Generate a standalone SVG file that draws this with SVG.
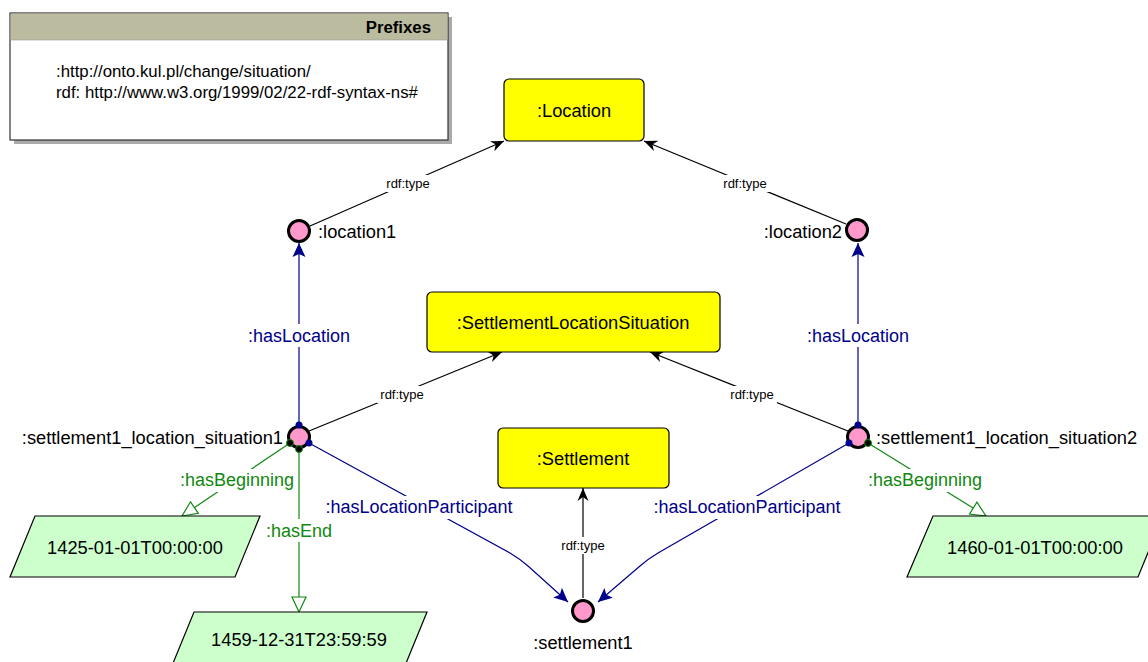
<svg xmlns="http://www.w3.org/2000/svg" width="1148" height="662" viewBox="0 0 1148 662">
<style>
text{font-family:"Liberation Sans",Arial,sans-serif;}
.cls{fill:#ffff00;stroke:#000;stroke-width:1.2;}
.ind{fill:#ff99cc;stroke:#000;stroke-width:3;}
.lit{fill:#ccffcc;stroke:#000;stroke-width:1.2;}
.t16{font-size:18.3px;fill:#000;}
.c{text-anchor:middle;}
.e{text-anchor:end;}
.blk{stroke:#000;stroke-width:1.2;fill:none;}
.blu{stroke:#00008b;stroke-width:1.2;fill:none;}
.grn{stroke:#118811;stroke-width:1.2;fill:none;}
.lb{fill:#fff;}
.rt{font-size:13px;fill:#000;text-anchor:middle;}
.bl{font-size:18px;fill:#00008b;text-anchor:middle;}
.gl{font-size:18px;fill:#118811;text-anchor:middle;}
.pf{font-size:16.8px;fill:#000;}
</style>
<defs>
<marker id="ab" viewBox="-13 -6 14 12" refX="0" refY="0" markerWidth="14" markerHeight="12" markerUnits="userSpaceOnUse" orient="auto"><path d="M0,0 L-13,-5.5 L-9,0 L-13,5.5 Z" fill="#000"/></marker>
<marker id="au" viewBox="-15 -7 16 14" refX="0" refY="0" markerWidth="16" markerHeight="14" markerUnits="userSpaceOnUse" orient="auto"><path d="M0,0 L-14,-6.5 L-11,0 L-14,6.5 Z" fill="#00008b"/></marker>
<marker id="ag" viewBox="-17 -8 18 16" refX="0" refY="0" markerWidth="18" markerHeight="16" markerUnits="userSpaceOnUse" orient="auto"><path d="M0,0 L-15,-7 L-15,7 Z" fill="#fff" stroke="#118811" stroke-width="1.2"/></marker>
</defs>

<g id="prefixes">
<rect x="14" y="17" width="438" height="127" fill="#aaaaaa"/>
<rect x="10" y="13" width="438" height="127" fill="#fff" stroke="#333" stroke-width="1.2"/>
<rect x="10.6" y="13.6" width="436.8" height="26.4" fill="#bbbb9f"/>
<line x1="10" y1="40" x2="448" y2="40" stroke="#999" stroke-width="0.6"/>
<text x="431" y="33" font-size="16.8" font-weight="bold" text-anchor="end">Prefixes</text>
<text x="56" y="77" class="pf">:http://onto.kul.pl/change/situation/</text>
<text x="56" y="98" class="pf">rdf: http://www.w3.org/1999/02/22-rdf-syntax-ns#</text>
</g>

<g id="connectors">
<line class="blk" x1="310" y1="226" x2="504" y2="141" marker-end="url(#ab)"/>
<rect class="lb" x="383" y="175" width="50" height="17"/>
<text class="rt" x="408" y="188">rdf:type</text>
<line class="blk" x1="846" y1="224" x2="644" y2="141" marker-end="url(#ab)"/>
<rect class="lb" x="720" y="175" width="50" height="17"/>
<text class="rt" x="745" y="188">rdf:type</text>
<line class="blu" x1="299" y1="425" x2="299" y2="243" marker-end="url(#au)"/>
<rect class="lb" x="245" y="324" width="108" height="23"/>
<text class="bl" x="299" y="342">:hasLocation</text>
<line class="blu" x1="858" y1="426" x2="858" y2="243" marker-end="url(#au)"/>
<rect class="lb" x="804" y="324" width="108" height="23"/>
<text class="bl" x="858" y="342">:hasLocation</text>
<line class="blk" x1="309" y1="431" x2="502" y2="352" marker-end="url(#ab)"/>
<rect class="lb" x="377" y="386" width="50" height="17"/>
<text class="rt" x="402" y="399">rdf:type</text>
<line class="blk" x1="848" y1="431" x2="650" y2="352" marker-end="url(#ab)"/>
<rect class="lb" x="727" y="386" width="50" height="17"/>
<text class="rt" x="752" y="399">rdf:type</text>
<line class="grn" x1="290" y1="443" x2="182" y2="516" marker-end="url(#ag)"/>
<rect class="lb" x="177" y="469" width="121" height="23"/>
<text class="gl" x="237" y="486">:hasBeginning</text>
<line class="grn" x1="299" y1="449" x2="299" y2="612" marker-end="url(#ag)"/>
<rect class="lb" x="264" y="519" width="70" height="23"/>
<text class="gl" x="299" y="537">:hasEnd</text>
<line class="grn" x1="868" y1="443" x2="986" y2="516" marker-end="url(#ag)"/>
<rect class="lb" x="865" y="469" width="121" height="23"/>
<text class="gl" x="925" y="486">:hasBeginning</text>
<path class="blu" d="M309,443 L510,553 Q520,559 528,566 L568,602" marker-end="url(#au)"/>
<rect class="lb" x="320" y="496" width="198" height="23"/>
<text class="bl" x="419" y="513">:hasLocationParticipant</text>
<path class="blu" d="M849,443 L658,553 Q648,559 640,566 L598,602" marker-end="url(#au)"/>
<rect class="lb" x="648" y="496" width="198" height="23"/>
<text class="bl" x="747" y="513">:hasLocationParticipant</text>
<line class="blk" x1="583" y1="598" x2="583" y2="488" marker-end="url(#ab)"/>
<rect class="lb" x="558" y="537" width="50" height="17"/>
<text class="rt" x="583" y="550">rdf:type</text>
</g>

<g id="Location"><rect class="cls" x="504" y="79" width="140" height="62" rx="5"/><text class="t16 c" x="574" y="117">:Location</text></g>
<g id="SettlementLocationSituation"><rect class="cls" x="427" y="292" width="293" height="60" rx="5"/><text class="t16 c" x="573" y="329">:SettlementLocationSituation</text></g>
<g id="Settlement"><rect class="cls" x="498" y="428" width="171" height="60" rx="5"/><text class="t16 c" x="583" y="465">:Settlement</text></g>

<g id="location1"><circle class="ind" cx="299" cy="231" r="10.5"/><text class="t16" x="318" y="238">:location1</text></g>
<g id="location2"><circle class="ind" cx="857" cy="230" r="10.5"/><text class="t16 e" x="842" y="238">:location2</text></g>

<g id="situation1">
<circle class="ind" cx="299" cy="437" r="10.5"/>
<circle cx="299" cy="425" r="3.5" fill="#00008b"/>
<circle cx="309" cy="443" r="3.5" fill="#00008b"/>
<circle cx="290" cy="443" r="3.5" fill="#000" stroke="#118811" stroke-width="1"/>
<circle cx="299" cy="449" r="3.5" fill="#000" stroke="#118811" stroke-width="1"/>
<text class="t16 e" x="283" y="444">:settlement1_location_situation1</text>
</g>
<g id="situation2">
<circle class="ind" cx="858" cy="437" r="10.5"/>
<circle cx="858" cy="425" r="3.5" fill="#00008b"/>
<circle cx="849" cy="443" r="3.5" fill="#00008b"/>
<circle cx="868" cy="443" r="3.5" fill="#000" stroke="#118811" stroke-width="1"/>
<text class="t16" x="876" y="444">:settlement1_location_situation2</text>
</g>

<g id="settlement1"><circle class="ind" cx="583" cy="611" r="10.5"/><text class="t16 c" x="583" y="649">:settlement1</text></g>

<g id="lit1425"><polygon class="lit" points="35,516 260,516 235,577 10,577"/><text class="t16 c" x="135" y="554">1425-01-01T00:00:00</text></g>
<g id="lit1459"><polygon class="lit" points="194,612 427,612 402,673 169,673"/><text class="t16 c" x="299" y="646">1459-12-31T23:59:59</text></g>
<g id="lit1460"><polygon class="lit" points="933,516 1163,516 1138,577 907,577"/><text class="t16 c" x="1035" y="554">1460-01-01T00:00:00</text></g>
</svg>
